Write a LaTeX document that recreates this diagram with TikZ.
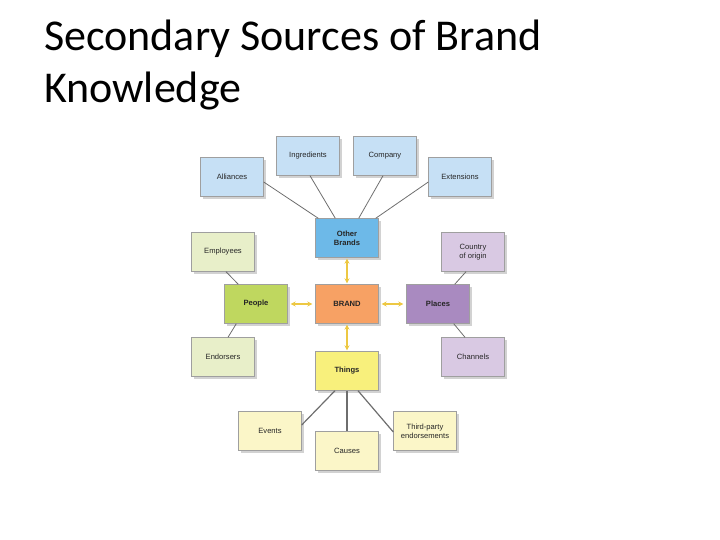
\documentclass[tikz,border=0pt]{standalone}
\usepackage{fontspec}
\setmainfont{Carlito}
\newfontfamily\boxfont{Liberation Sans}
\usetikzlibrary{shadows, arrows.meta}
\definecolor{lblue}{HTML}{C6E0F5}
\definecolor{dblue}{HTML}{6DB9E8}
\definecolor{lgreen}{HTML}{E8EFC9}
\definecolor{dgreen}{HTML}{BFD75F}
\definecolor{brandorange}{HTML}{F7A164}
\definecolor{dpurple}{HTML}{A98AC0}
\definecolor{lpurple}{HTML}{D9C9E3}
\definecolor{dyellow}{HTML}{F8F07C}
\definecolor{lyellow}{HTML}{FBF6C8}
\definecolor{arrowyellow}{HTML}{EDC843}
\definecolor{linegray}{HTML}{6E6E6E}
\begin{document}
\begin{tikzpicture}[x=1pt, y=-1pt,
	box/.style={rectangle, draw=gray!75, line width=0.4pt, minimum width=63pt, minimum height=39pt, align=center, inner sep=1pt,
		text=black!85, font=\boxfont\fontsize{7.6}{8.8}\selectfont, drop shadow={shadow xshift=2.5pt, shadow yshift=-2.5pt, fill=gray!35, opacity=1}},
	link/.style={draw=linegray, line width=0.8pt},
	pair/.style={draw=arrowyellow, line width=1.2pt, {Stealth[length=5pt,width=5pt]}-{Stealth[length=5pt,width=5pt]}, shorten <=1pt, shorten >=1pt}]
	\useasboundingbox (0, 0) rectangle (720, 540);
	\node[anchor=base west, inner sep=0pt, font=\fontsize{44}{52}\selectfont] (title1) at (44, 51) {Secondary Sources of Brand};
	\node[anchor=base west, inner sep=0pt, font=\fontsize{44}{52}\selectfont] (title2) at (44, 103) {Knowledge};
	
	\node[box, fill=lblue] (ingr) at (308, 156) {Ingredients};
	\node[box, fill=lblue] (comp) at (385, 156) {Company};
	\node[box, fill=lblue] (alli) at (232, 177) {Alliances};
	\node[box, fill=lblue] (ext) at (460, 177) {Extensions};
	\node[box, fill=dblue] (other) at (347, 238) {\textbf{Other}\\\textbf{Brands}};
	
	\node[box, fill=lgreen] (empl) at (223, 252) {Employees};
	\node[box, fill=dgreen] (people) at (256, 304) {\textbf{People}};
	\node[box, fill=lgreen] (endo) at (223, 357) {Endorsers};
	
	\node[box, fill=brandorange] (brand) at (347, 304) {\textbf{BRAND}};
	
	\node[box, fill=lpurple] (country) at (473, 252) {Country\\of origin};
	\node[box, fill=dpurple] (places) at (438, 304) {\textbf{Places}};
	\node[box, fill=lpurple] (chan) at (473, 357) {Channels};
	
	\node[box, fill=dyellow] (things) at (347, 371) {\textbf{Things}};
	\node[box, fill=lyellow] (events) at (270, 431) {Events};
	\node[box, fill=lyellow] (causes) at (347, 451) {Causes};
	\node[box, fill=lyellow] (third) at (425, 431) {Third-party\\endorsements};
	
	% other brands fan
	\draw[link] ([xshift=3pt]other.north west) to ([yshift=-5pt]alli.east);
	\draw[link] ([xshift=20pt]other.north west) to ([xshift=2pt]ingr.south);
	\draw[link] ([xshift=-20pt]other.north east) to ([xshift=-2pt]comp.south);
	\draw[link] ([xshift=-3pt]other.north east) to ([yshift=-5pt]ext.west);
	
	\draw[link] ([xshift=14pt]people.north west) to ([xshift=3pt]empl.south);
	\draw[link] ([xshift=12pt]people.south west) to ([xshift=5pt]endo.north);
	\draw[link] ([xshift=-15pt]places.north east) to ([xshift=-7pt]country.south);
	\draw[link] ([xshift=-16pt]places.south east) to ([xshift=-8pt]chan.north);
	
	\draw[link, line width=1.2pt] ([xshift=-12pt]things.south) to ([yshift=6pt]events.east);
	\draw[link, line width=1.2pt] (things) to (causes);
	\draw[link, line width=1.2pt] ([xshift=11pt]things.south) to ([yshift=-1pt]third.west);
	
	\draw[pair] (other) to (brand);
	\draw[pair] (brand) to (things);
	\draw[pair, shorten <=3pt, shorten >=3pt] (people) to (brand);
	\draw[pair, shorten <=3pt, shorten >=3pt] (brand) to (places);
\end{tikzpicture}
\end{document}
